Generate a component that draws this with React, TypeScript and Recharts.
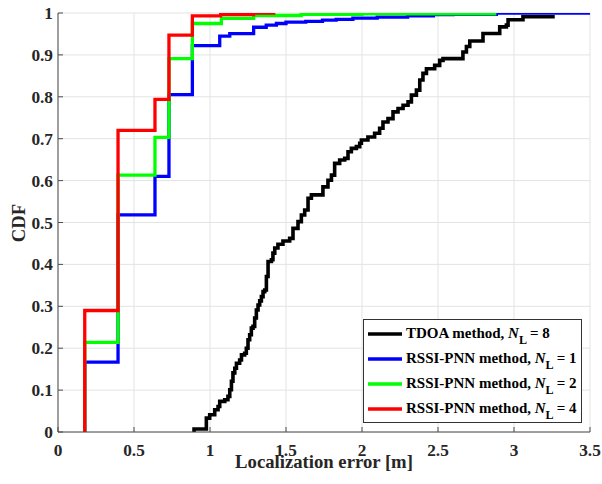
import React from 'react'
import {
  LineChart,
  Line,
  XAxis,
  YAxis,
  CartesianGrid,
  Legend,
} from 'recharts'

// CDF step points: [error (m), cumulative probability]
const tdoaNL8: [number, number][] = [
  [0.895, 0], [0.895, 0.007], [0.976, 0.033], [0.998, 0.041], [1.031, 0.053],
  [1.053, 0.061], [1.064, 0.073], [1.097, 0.077], [1.118, 0.085], [1.13, 0.101],
  [1.141, 0.121], [1.151, 0.141], [1.163, 0.152], [1.174, 0.164], [1.195, 0.172],
  [1.207, 0.184], [1.228, 0.188], [1.239, 0.2], [1.25, 0.22], [1.261, 0.232],
  [1.272, 0.248], [1.283, 0.252], [1.294, 0.272], [1.305, 0.291], [1.316, 0.303],
  [1.327, 0.313], [1.338, 0.323], [1.349, 0.335], [1.36, 0.339], [1.371, 0.371],
  [1.382, 0.407], [1.404, 0.411], [1.414, 0.427], [1.426, 0.439], [1.447, 0.448],
  [1.48, 0.456], [1.524, 0.462], [1.546, 0.486], [1.579, 0.502], [1.601, 0.518],
  [1.623, 0.53], [1.645, 0.558], [1.667, 0.566], [1.743, 0.585], [1.776, 0.601],
  [1.799, 0.613], [1.82, 0.641], [1.853, 0.649], [1.886, 0.653], [1.908, 0.669],
  [1.93, 0.677], [1.963, 0.681], [1.985, 0.689], [1.996, 0.697], [2.039, 0.704],
  [2.083, 0.713], [2.116, 0.725], [2.138, 0.74], [2.171, 0.748], [2.204, 0.764],
  [2.237, 0.772], [2.27, 0.78], [2.303, 0.788], [2.325, 0.804], [2.358, 0.816],
  [2.38, 0.84], [2.401, 0.856], [2.424, 0.867], [2.478, 0.875], [2.511, 0.887],
  [2.533, 0.891], [2.664, 0.907], [2.687, 0.92], [2.709, 0.933], [2.796, 0.951],
  [2.906, 0.967], [2.95, 0.971], [2.961, 0.984], [3.059, 0.991], [3.268, 0.991],
]

const pnnNL1: [number, number][] = [
  [0.176, 0], [0.176, 0.167], [0.395, 0.518], [0.638, 0.61], [0.73, 0.805],
  [0.884, 0.922], [1.064, 0.945], [1.13, 0.951], [1.287, 0.966], [1.37, 0.971],
  [1.437, 0.975], [1.5, 0.978], [1.63, 0.98], [1.74, 0.983], [1.83, 0.985],
  [1.94, 0.988], [2.1, 0.99], [2.3, 0.993], [2.47, 0.996], [2.6, 0.997],
  [2.884, 1], [3.5, 1],
]

const pnnNL2: [number, number][] = [
  [0.176, 0], [0.176, 0.214], [0.395, 0.613], [0.638, 0.703], [0.73, 0.891],
  [0.884, 0.975], [1.075, 0.987], [1.287, 0.994], [1.6, 0.997], [2.0, 0.998],
  [2.884, 0.998],
]

const pnnNL4: [number, number][] = [
  [0.176, 0], [0.176, 0.29], [0.395, 0.72], [0.638, 0.794], [0.73, 0.947],
  [0.884, 0.993], [1.07, 0.996], [1.287, 1], [1.43, 1],
]

const xTicks = [0, 0.5, 1, 1.5, 2, 2.5, 3, 3.5]
const yTicks = [0, 0.1, 0.2, 0.3, 0.4, 0.5, 0.6, 0.7, 0.8, 0.9, 1]

const series = [
  { name: 'TDOA method', nl: 8, color: '#000000', width: 3.6, points: tdoaNL8 },
  { name: 'RSSI-PNN method', nl: 1, color: '#0000ff', width: 3.3, points: pnnNL1 },
  { name: 'RSSI-PNN method', nl: 2, color: '#00ff00', width: 3.3, points: pnnNL2 },
  { name: 'RSSI-PNN method', nl: 4, color: '#ff0000', width: 3.3, points: pnnNL4 },
]

const FONT = '"Liberation Serif", "Times New Roman", serif'
const AXIS_COLOR = '#4d4d4d'

const XTick = (props: any) => (
  <text
    x={props.x}
    y={props.y}
    dy={12.5}
    textAnchor="middle"
    fontFamily={FONT}
    fontWeight={700}
    fontSize={17.3}
    fill="#262626"
  >
    {props.payload.value}
  </text>
)

const YTick = (props: any) => (
  <text
    x={props.x}
    y={props.y}
    dy={6}
    textAnchor="end"
    fontFamily={FONT}
    fontWeight={700}
    fontSize={17.3}
    fill="#262626"
  >
    {props.payload.value}
  </text>
)

const LegendBox = () => (
  <div
    style={{
      width: 219,
      height: 104,
      boxSizing: 'border-box',
      border: '1px solid #333',
      background: '#fff',
      fontFamily: FONT,
      fontWeight: 700,
      fontSize: 15,
      color: '#000',
      paddingTop: 1,
    }}
  >
    {series.map((s, i) => (
      <div
        key={i}
        style={{ display: 'flex', alignItems: 'center', height: 25, whiteSpace: 'nowrap' }}
      >
        <svg width={42} height={10} style={{ flex: 'none' }}>
          <line x1={4} x2={38} y1={5} y2={5} stroke={s.color} strokeWidth={3.3} />
        </svg>
        <span style={{ lineHeight: '18px' }}>
          {s.name}, <span style={{ fontStyle: 'italic' }}>N</span>
          <span style={{ fontSize: 12, position: 'relative', top: 6 }}>L</span>
          <span>{'\u2009'}= {s.nl}</span>
        </span>
      </div>
    ))}
  </div>
)

export default function App() {
  return (
    <div style={{ position: 'absolute', left: 0, top: 0, background: '#fff' }}>
      <LineChart
        width={602}
        height={484}
        margin={{ top: 13, right: 12, bottom: 0, left: 0 }}
      >
        <CartesianGrid stroke="#e3e3e3" strokeWidth={1} />
        <XAxis
          type="number"
          dataKey="x"
          domain={[0, 3.5]}
          ticks={xTicks}
          interval={0}
          allowDataOverflow
          height={52}
          tickSize={-5}
          tickMargin={16}
          tickLine={{ stroke: AXIS_COLOR }}
          axisLine={{ stroke: AXIS_COLOR }}
          tick={<XTick />}
          label={{
            content: () => (
              <text
                x={324}
                y={468}
                textAnchor="middle"
                fontFamily={FONT}
                fontWeight={700}
                fontSize={18.7}
                fill="#262626"
              >
                Localization error [m]
              </text>
            ),
          }}
        />
        <XAxis
          xAxisId="top"
          orientation="top"
          type="number"
          dataKey="x"
          domain={[0, 3.5]}
          ticks={xTicks}
          interval={0}
          allowDataOverflow
          height={0}
          tickSize={-5}
          tick={false}
          tickLine={{ stroke: AXIS_COLOR }}
          axisLine={{ stroke: AXIS_COLOR }}
        />
        <YAxis
          type="number"
          domain={[0, 1]}
          ticks={yTicks}
          interval={0}
          allowDataOverflow
          width={58}
          tickSize={-5}
          tickMargin={10}
          tickLine={{ stroke: AXIS_COLOR }}
          axisLine={{ stroke: AXIS_COLOR }}
          tick={<YTick />}
          label={{
            content: () => (
              <text
                x={18}
                y={223}
                transform="rotate(-90 18 223)"
                textAnchor="middle"
                dominantBaseline="central"
                fontFamily={FONT}
                fontWeight={700}
                fontSize={18.7}
                fill="#262626"
              >
                CDF
              </text>
            ),
          }}
        />
        <YAxis
          yAxisId="right"
          orientation="right"
          type="number"
          domain={[0, 1]}
          ticks={yTicks}
          interval={0}
          allowDataOverflow
          width={0}
          tickSize={-5}
          tick={false}
          tickLine={{ stroke: AXIS_COLOR }}
          axisLine={{ stroke: AXIS_COLOR }}
        />
        {series.map((s, i) => (
          <Line
            key={i}
            data={s.points.map(([x, y]) => ({ x, y }))}
            dataKey="y"
            type="stepAfter"
            stroke={s.color}
            strokeWidth={s.width}
            dot={false}
            activeDot={false}
            isAnimationActive={false}
            name={`${s.name}, N_L = ${s.nl}`}
          />
        ))}
        <Legend
          layout="vertical"
          align="center"
          verticalAlign="middle"
          content={() => <LegendBox />}
          wrapperStyle={{ left: 363, top: 319, right: 'auto', bottom: 'auto', width: 219, height: 104 }}
        />
      </LineChart>
    </div>
  )
}
